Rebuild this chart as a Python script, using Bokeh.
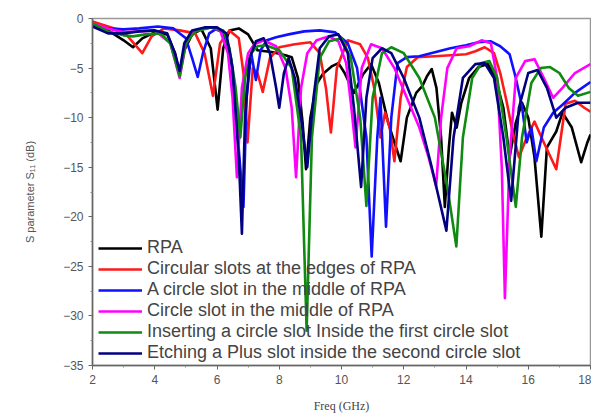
from bokeh.plotting import figure
from bokeh.embed import file_html
from bokeh.resources import INLINE
from bokeh.models import Range1d, FixedTicker, Legend, LegendItem

# ---------------- data ----------------
rpa_x = [2.0, 2.5, 3.0, 3.3, 3.6, 4.0, 4.4, 4.65, 4.8, 4.95, 5.2, 5.5, 5.8, 6.02, 6.2, 6.4, 6.7, 7.0,
         7.3, 7.8, 8.2, 8.4, 8.6, 8.75, 8.86, 9.0, 9.2, 9.4, 9.7, 9.9, 10.1, 10.4, 10.7, 10.95, 11.2,
         11.5, 11.7, 11.9, 12.1, 12.4, 12.6, 12.75, 12.9, 13.05, 13.2, 13.32, 13.45, 13.55, 13.7, 13.85,
         14.1, 14.4, 14.7, 14.95, 15.2, 15.4, 15.6, 15.8, 16.0, 16.2, 16.42, 16.6, 16.9, 17.1, 17.4,
         17.7, 17.9, 18.0]
rpa_y = [-0.5, -1.2, -2.2, -2.9, -2.0, -1.4, -1.6, -3.5, -5.6, -3.2, -1.6, -1.1, -3.0, -9.2, -3.0, -1.2,
         -1.0, -1.6, -3.2, -3.4, -3.7, -3.9, -6.0, -10.5, -15.2, -10.0, -6.6, -5.6, -4.8, -4.5, -5.5, -7.5,
         -5.6, -4.6, -6.5, -10.5, -12.5, -14.4, -10.0, -7.5, -6.8, -5.8, -5.1, -7.0, -12.0, -19.0, -13.0,
         -9.5, -11.0, -8.5, -6.0, -4.9, -4.6, -6.0, -9.0, -14.0, -10.5, -8.5, -10.0, -14.0, -22.0, -13.0,
         -11.4, -9.5, -11.0, -14.5, -12.5, -11.7]

red_x = [2.0, 2.5, 3.0, 3.3, 3.6, 3.9, 4.3, 4.8, 5.3, 5.6, 5.87, 6.1, 6.4, 6.7, 6.85, 6.98, 7.15, 7.3,
         7.47, 7.7, 8.0, 8.5, 9.0, 9.3, 9.5, 9.66, 9.85, 10.2, 10.6, 10.85, 11.05, 11.25, 11.4, 11.55,
         11.7, 11.9, 12.1, 12.45, 13.0, 13.5, 14.0, 14.3, 14.6, 14.9, 15.1, 15.3, 15.5, 15.7, 15.95,
         16.2, 16.5, 16.9, 17.2, 17.5, 17.8, 18.0]
red_y = [-0.3, -0.8, -1.3, -2.4, -3.5, -1.8, -1.0, -1.2, -1.5, -3.5, -7.8, -2.5, -1.2, -2.0, -5.5, -12.5,
         -5.0, -5.5, -7.4, -4.0, -2.9, -2.6, -2.4, -3.5, -7.0, -11.5, -5.0, -2.2, -2.6, -4.0, -7.0, -12.0,
         -9.5, -11.0, -14.4, -8.0, -4.9, -3.9, -3.8, -3.7, -3.6, -3.3, -2.9, -3.5, -5.5, -8.3, -11.5, -14.0,
         -12.0, -10.4, -12.5, -15.2, -8.6, -8.3, -9.0, -9.4]

blue_x = [2.0, 2.5, 3.0, 3.5, 4.1, 4.6, 5.0, 5.2, 5.38, 5.55, 5.75, 5.95, 6.2, 6.45, 6.6, 6.72, 6.85,
          6.95, 7.1, 7.25, 7.4, 7.6, 7.9, 8.3, 8.8, 9.3, 9.8, 10.2, 10.5, 10.8, 10.97, 11.15, 11.25,
          11.43, 11.6, 11.8, 12.1, 12.5, 13.0, 13.5, 14.0, 14.4, 14.8, 15.1, 15.4, 15.6, 15.8, 15.95,
          16.1, 16.26, 16.5, 16.8, 17.1, 17.5, 18.0]
blue_y = [-0.6, -1.0, -1.1, -1.0, -0.8, -1.0, -2.0, -4.0, -5.9, -3.5, -1.5, -1.1, -1.4, -4.0, -9.0, -14.0,
          -19.0, -8.0, -3.5, -6.2, -3.2, -2.2, -1.9, -1.6, -1.3, -1.2, -1.4, -2.5, -5.0, -12.0, -24.0, -12.0,
          -8.0, -21.0, -10.0, -4.5, -3.9, -3.8, -3.4, -3.0, -2.7, -2.4, -2.3, -2.8, -3.6, -6.0, -8.9, -12.5,
          -11.0, -14.4, -11.0, -9.5, -8.7, -7.5, -6.4]

mag_x = [2.0, 2.5, 3.0, 3.5, 4.0, 4.5, 4.8, 5.0, 5.3, 5.8, 6.1, 6.35, 6.5, 6.64, 6.8, 7.0, 7.2, 7.5,
         7.9, 8.2, 8.4, 8.54, 8.7, 8.9, 9.2, 9.6, 9.9, 10.15, 10.3, 10.45, 10.65, 10.95, 11.3, 11.7,
         12.1, 12.5, 12.8, 13.04, 13.2, 13.4, 13.7, 14.1, 14.5, 14.8, 15.0, 15.15, 15.25, 15.4, 15.6,
         15.9, 16.2, 16.5, 16.8, 17.1, 17.5, 18.0]
mag_y = [-0.5, -1.0, -1.4, -1.3, -1.2, -2.5, -6.0, -2.5, -1.2, -0.9, -1.2, -3.5, -8.0, -16.0, -7.0, -3.5,
         -2.6, -2.2, -2.8, -5.0, -9.0, -16.0, -7.0, -3.5, -2.2, -1.8, -2.3, -4.5, -8.5, -13.0, -5.0, -2.6,
         -3.0, -5.0, -8.0, -11.0, -14.0, -16.9, -10.0, -5.0, -3.0, -2.8, -2.2, -2.5, -6.0, -15.0, -28.2,
         -14.0, -6.0, -4.3, -4.1, -6.0, -8.0, -7.0, -5.5, -4.6]

grn_x = [2.0, 2.5, 3.0, 3.3, 3.7, 4.2, 4.5, 4.8, 5.0, 5.3, 5.8, 6.2, 6.4, 6.6, 6.75, 6.9, 7.1, 7.3,
         7.57, 8.0, 8.4, 8.7, 8.88, 9.05, 9.3, 9.6, 10.0, 10.3, 10.6, 10.8, 11.0, 11.3, 11.6, 12.0,
         12.5, 13.0, 13.4, 13.69, 13.9, 14.2, 14.5, 14.75, 15.0, 15.3, 15.6, 15.8, 16.1, 16.4, 16.7,
         17.0, 17.3, 17.6, 18.0]
grn_y = [-0.5, -1.3, -1.7, -1.8, -1.6, -1.5, -2.5, -5.8, -2.5, -1.3, -0.9, -1.2, -3.0, -7.0, -12.0, -6.0,
         -3.5, -2.8, -2.7, -3.2, -5.0, -12.0, -31.5, -12.0, -4.0, -2.3, -2.0, -4.0, -10.0, -18.9, -8.0,
         -3.5, -2.9, -3.5, -6.0, -10.0, -17.0, -23.0, -12.0, -6.0, -4.5, -4.3, -6.0, -12.0, -19.0, -12.0,
         -6.5, -5.0, -4.9, -5.5, -7.0, -7.8, -7.4]

nav_x = [2.0, 2.5, 3.0, 3.5, 4.0, 4.4, 4.65, 4.8, 4.95, 5.2, 5.6, 6.0, 6.3, 6.5, 6.7, 6.8, 6.9, 7.05,
         7.25, 7.5, 7.7, 7.9, 8.0, 8.15, 8.3, 8.5, 8.7, 8.9, 9.1, 9.3, 9.6, 9.9, 10.2, 10.4, 10.63, 10.8,
         11.0, 11.3, 11.6, 12.0, 12.5, 12.9, 13.37, 13.6, 13.9, 14.3, 14.6, 14.9, 15.2, 15.45, 15.7, 16.0,
         16.3, 16.6, 16.9, 17.2, 17.6, 18.0]
nav_y = [-0.8, -1.5, -1.5, -1.3, -1.2, -1.5, -3.5, -5.3, -2.5, -1.2, -0.9, -0.9, -1.5, -5.0, -14.0, -21.7,
         -10.0, -4.0, -2.3, -2.0, -3.5, -7.0, -9.0, -5.5, -4.0, -6.0, -10.0, -15.0, -8.0, -3.0, -1.8, -1.6,
         -3.5, -9.0, -17.0, -8.0, -4.0, -3.0, -3.5, -6.0, -10.0, -15.0, -21.4, -12.0, -6.0, -4.6, -4.5, -6.0,
         -12.0, -18.4, -9.0, -5.5, -5.2, -7.0, -10.0, -9.0, -8.5, -8.5]

series_names = ["RPA",
                "Circular slots at the edges of RPA",
                "A circle slot in the middle of RPA",
                "Circle slot in the middle of RPA",
                "Inserting a circle slot Inside the first circle slot",
                "Etching a Plus slot inside the second circle slot"]
series_colors = ["#000000", "#ff1a1a", "#1010ff", "#ff00ff", "#108a10", "#000080"]

x_ticks = [2, 4, 6, 8, 10, 12, 14, 16, 18]
y_ticks = [0, -5, -10, -15, -20, -25, -30, -35]

# ---------------- figure ----------------
p = figure(width=591, height=415, output_backend="svg", toolbar_location=None,
           x_range=Range1d(2, 18), y_range=Range1d(-35, 0),
           min_border_left=92, min_border_right=1, min_border_top=18, min_border_bottom=49)
p.background_fill_color = "white"
p.border_fill_color = "white"
p.outline_line_color = "#999999"
p.outline_line_width = 1.5
p.grid.visible = False

for ax in (p.xaxis[0], p.yaxis[0]):
    ax.axis_line_color = "#666666"
    ax.axis_line_width = 1.5
    ax.major_tick_line_color = "#666666"
    ax.minor_tick_line_color = "#888888"
    ax.major_tick_out = 4
    ax.major_tick_in = 0
    ax.minor_tick_out = 2
    ax.minor_tick_in = 0
    ax.major_label_text_font = "Liberation Sans"
    ax.major_label_text_font_size = "12px"
    ax.major_label_text_color = "#555555"

p.xaxis.ticker = FixedTicker(ticks=x_ticks, minor_ticks=[3, 5, 7, 9, 11, 13, 15, 17])
p.yaxis.ticker = FixedTicker(ticks=y_ticks,
                             minor_ticks=[-2.5, -7.5, -12.5, -17.5, -22.5, -27.5, -32.5])
p.xaxis.axis_label = "Freq (GHz)"
p.xaxis.axis_label_text_font = "Liberation Serif"
p.xaxis.axis_label_text_font_style = "normal"
p.xaxis.axis_label_text_font_size = "12px"
p.xaxis.axis_label_text_color = "#444444"
p.xaxis.axis_label_standoff = 12
p.yaxis.axis_label = "S parameter S\u2081\u2081 (dB)"
p.yaxis.axis_label_text_font = "Liberation Sans"
p.yaxis.axis_label_text_font_style = "normal"
p.yaxis.axis_label_text_font_size = "11px"
p.yaxis.axis_label_text_color = "#555555"
p.yaxis.axis_label_standoff = 24

xs = [rpa_x, red_x, blue_x, mag_x, grn_x, nav_x]
ys = [rpa_y, red_y, blue_y, mag_y, grn_y, nav_y]
items = []
for sx, sy, name, col in zip(xs, ys, series_names, series_colors):
    r = p.line(sx, sy, line_color=col, line_width=2.6, line_join="round")
    items.append(LegendItem(label=name, renderers=[r]))

legend = Legend(items=items, location=(6, 2))
legend.background_fill_alpha = 0
legend.border_line_alpha = 0
legend.padding = 0
legend.margin = 0
legend.spacing = 0
legend.glyph_width = 44
legend.glyph_height = 20
legend.label_height = 20
legend.label_standoff = 5
legend.label_text_font = "Liberation Sans"
legend.label_text_font_size = "18px"
legend.label_text_color = "#444444"
p.add_layout(legend, "center")

open("out.html", "w").write(file_html(p, INLINE))
